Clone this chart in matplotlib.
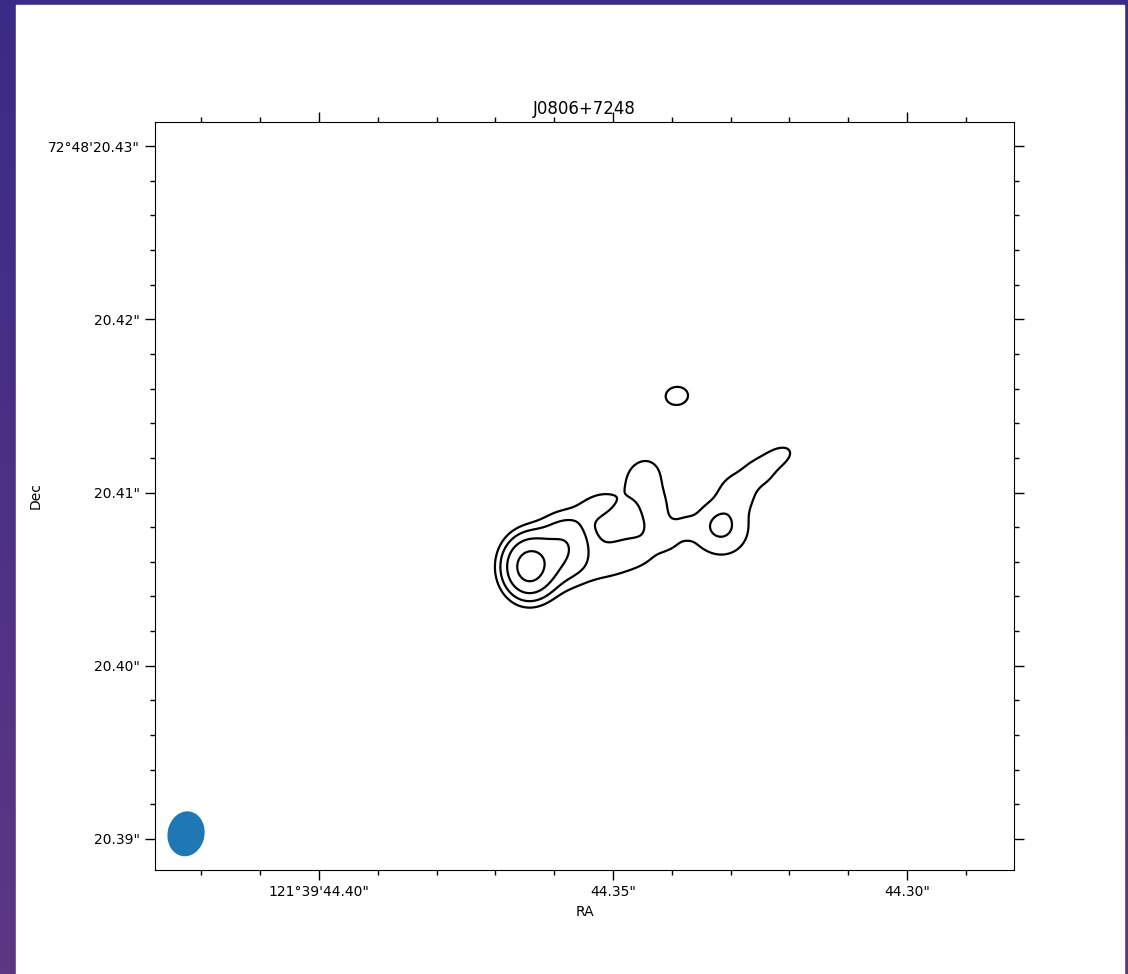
import numpy as np
import matplotlib
matplotlib.use("Agg")
import matplotlib.pyplot as plt
from matplotlib.ticker import FixedLocator, FixedFormatter, MultipleLocator

# ---------------------------------------------------------------------------
# Source and map centre
source_name = "J0806+7248"
ra_core_sec = 44.3643          # RA  = 121d39m44.3643s (core position)
dec_core_sec = 20.40571        # Dec =  72d48m20.40571s
dec_core_deg = 72 + 48 / 60 + dec_core_sec / 3600

# Gaussian model components (offsets from core in mas, east positive)
comp_dra = [0.000, -1.709, -2.312, -4.824, -3.467, -5.176, -3.819, -5.729, -6.332,
            -6.834, -7.889, -9.749, -9.648, -10.503, -11.608, -12.513, -7.437]
comp_ddec = [0.000, 1.039, 2.135, 0.808, 3.578, 0.635, -0.404, 5.078, 3.405,
             1.847, 2.308, 2.077, 2.424, 4.443, 5.482, 6.347, 9.867]
comp_peak = [10.4, 3.5, 0.55, 1.0, 1.5, 0.5, 0.3, 1.6, 1.3,
             0.9, 0.7, 1.25, 1.05, 1.3, 1.3, 1.6, 1.3]
comp_maj = [1.079, 1.269, 0.808, 2.151, 0.806, 1.005, 0.905, 1.075, 0.808,
            0.577, 0.404, 1.616, 0.808, 0.808, 0.653, 0.699, 0.780]
comp_min = [0.789, 0.905, 0.804, 1.075, 0.538, 0.692, 0.577, 0.806, 0.503,
            0.503, 0.402, 1.407, 0.704, 0.704, 0.635, 0.430, 0.720]
comp_pa = [0, 0, 0, 115, 118, 90, 90, 165, 0,
           0, 0, 0, 0, 0, 90, 125, 105]

contour_levels = [1, 2, 4, 8]

# Restoring beam (FWHM, mas) and where it is drawn
beam_maj = 2.60
beam_min = 1.86
beam_pa = 174
beam_ra_sec = 44.42262
beam_dec_sec = 20.39030

# Axis ticks
ra_limits = (44.4279, 44.2818)
dec_limits = (20.38821, 20.43139)
ra_ticks = [44.40, 44.35, 44.30]
ra_ticklabels = ["121°39'44.40\"", "44.35\"", "44.30\""]
dec_ticks = [20.39, 20.40, 20.41, 20.42, 20.43]
dec_ticklabels = ['20.39"', '20.40"', '20.41"', '20.42"', "72°48'20.43\""]

# ---------------------------------------------------------------------------
cosd = np.cos(np.radians(dec_core_deg))


def to_sky(e_mas, n_mas):
    """Offsets in mas (east, north) -> RA seconds (of arc) and Dec seconds."""
    return ra_core_sec + np.asarray(e_mas) / 1000.0 / cosd, dec_core_sec + np.asarray(n_mas) / 1000.0


e_axis = np.linspace(20, -26, 600)
n_axis = np.linspace(-19, 27, 600)
E, N = np.meshgrid(e_axis, n_axis)
image = np.zeros_like(E)
for e0, n0, amp, smaj, smin, pa in zip(comp_dra, comp_ddec, comp_peak, comp_maj, comp_min, comp_pa):
    t = np.radians(pa)
    de, dn = E - e0, N - n0
    a = de * np.sin(t) + dn * np.cos(t)
    b = de * np.cos(t) - dn * np.sin(t)
    image += amp * np.exp(-0.5 * ((a / smaj) ** 2 + (b / smin) ** 2))

RA, DEC = to_sky(E, N)

fig = plt.figure(figsize=(11.28, 9.74), dpi=100)

# backdrop and white sheet
bg = fig.add_axes([0, 0, 1, 1], zorder=-10)
grad = np.linspace(0, 1, 256)[:, None] * np.ones((1, 2))
top = np.array([0x3a, 0x2b, 0x88]) / 255
bot = np.array([0x5e, 0x37, 0x82]) / 255
rgb = top[None, None, :] * (1 - grad[..., None]) + bot[None, None, :] * grad[..., None]
bg.imshow(rgb, aspect="auto", extent=[0, 1, 0, 1], origin="upper")
bg.add_patch(plt.Rectangle((16 / 1128, 0), (1124 - 16) / 1128, 969 / 974, color="white"))
bg.set_xlim(0, 1)
bg.set_ylim(0, 1)
bg.axis("off")

ax = fig.add_axes([155 / 1128, 104 / 974, 859 / 1128, 748 / 974])
ax.contour(RA, DEC, image, levels=contour_levels, colors="black", linewidths=1.6)

# beam ellipse, built in sky offsets then mapped to the axes coordinates
phi = np.linspace(0, 2 * np.pi, 200)
tb = np.radians(beam_pa)
u = 0.5 * beam_maj * np.cos(phi)
v = 0.5 * beam_min * np.sin(phi)
be = u * np.sin(tb) + v * np.cos(tb)
bn = u * np.cos(tb) - v * np.sin(tb)
ax.fill(beam_ra_sec + be / 1000.0 / cosd, beam_dec_sec + bn / 1000.0, color="#1f77b4", lw=0)

ax.set_xlim(*ra_limits)
ax.set_ylim(*dec_limits)
ax.xaxis.set_major_locator(FixedLocator(ra_ticks))
ax.xaxis.set_major_formatter(FixedFormatter(ra_ticklabels))
ax.xaxis.set_minor_locator(MultipleLocator(0.01))
ax.yaxis.set_major_locator(FixedLocator(dec_ticks))
ax.yaxis.set_major_formatter(FixedFormatter(dec_ticklabels))
ax.yaxis.set_minor_locator(MultipleLocator(0.002))
ax.tick_params(which="both", direction="out", top=True, right=True,
               labeltop=False, labelright=False, labelsize=10)
ax.tick_params(which="major", length=7.5, width=1)
ax.tick_params(which="minor", length=3.5, width=1)
ax.set_xlabel("RA")
ax.set_ylabel("Dec")
ax.set_title(source_name, fontsize=12, y=1.0, pad=6)

fig.savefig("out.png", dpi=100)
